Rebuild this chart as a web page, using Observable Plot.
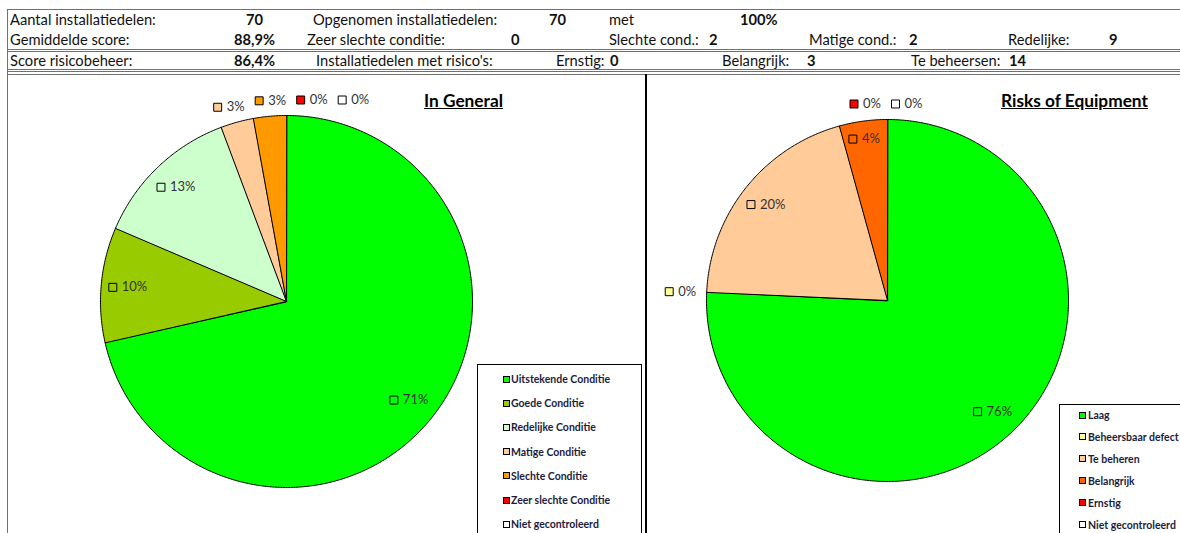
<!DOCTYPE html>
<html><head><meta charset="utf-8">
<script src="https://cdn.jsdelivr.net/npm/d3@7"></script>
<script src="https://cdn.jsdelivr.net/npm/@observablehq/plot@0.6"></script>
<style>
body{margin:0;background:#fff;font-family:Lato,"Open Sans",sans-serif;}
#page{position:relative;width:1180px;height:533px;overflow:hidden;background:#fff;}
.h{position:absolute;font-size:14.7px;color:#111;white-space:nowrap;line-height:16px;height:16px;}
.b{font-weight:bold;}
.ln{position:absolute;background:#707070;}
.title{position:absolute;font-size:17.3px;font-weight:bold;text-decoration:underline;color:#000;white-space:nowrap;line-height:18px;}
.legend{position:absolute;border:1px solid #000;background:#fff;}
.li{position:absolute;font-size:10.5px;font-weight:bold;color:#1c1c3c;white-space:nowrap;line-height:12px;}
.sw{position:absolute;width:5px;height:5px;border:1px solid #000;}
</style></head>
<body><div id="page"></div>
<script>
// ---- data ----
const row1Labels = ["Aantal installatiedelen:", "Opgenomen installatiedelen:", "met"];
const row1Values = ["70", "70", "100%"];
const row2Labels = ["Gemiddelde score:", "Zeer slechte conditie:", "Slechte cond.:", "Matige cond.:", "Redelijke:"];
const row2Values = ["88,9%", "0", "2", "2", "9"];
const row3Labels = ["Score risicobeheer:", "Installatiedelen met risico's:", "Ernstig:", "Belangrijk:", "Te beheersen:"];
const row3Values = ["86,4%", "", "0", "3", "14"];

const generalTitle = "In General";
const generalNames = ["Uitstekende Conditie","Goede Conditie","Redelijke Conditie","Matige Conditie","Slechte Conditie","Zeer slechte Conditie","Niet gecontroleerd"];
const generalCounts = [50, 7, 9, 2, 2, 0, 0];
const generalColors = ["#00FF00","#99CC00","#CCFFCC","#FFCC99","#FF9900","#FF0000","#FFFFFF"];

const riskTitle = "Risks of Equipment";
const riskNames = ["Laag","Beheersbaar defect","Te beheren","Belangrijk","Ernstig","Niet gecontroleerd"];
const riskCounts = [53, 0, 14, 3, 0, 0];
const riskColors = ["#00FF00","#FFFF99","#FFCC99","#FF6600","#FF0000","#FFFFFF"];

// ---- layout ----
const page = document.getElementById("page");
function el(cls, style, text){const d=document.createElement("div");d.className=cls;Object.assign(d.style,style);if(text!=null)d.textContent=text;page.appendChild(d);return d;}

// table lines
[[7,9,1173,1],[7,49,1173,1],[7,51,1173,1],[7,69,1173,1],[7,71,1173,1],[7,74,1173,1],[7,9,1,524]].forEach(([x,y,w,h])=>el("ln",{left:x+"px",top:y+"px",width:w+"px",height:h+"px"}));
el("ln",{left:"645px",top:"74px",width:"2px",height:"460px",background:"#000"});

const rows = [
  {labels:row1Labels, values:row1Values, lx:[10,313,609], vx:[246,549,740], y:19},
  {labels:row2Labels, values:row2Values, lx:[10,307,609,809,1008], vx:[234,511,709,909,1109], y:39},
  {labels:row3Labels, values:row3Values, lx:[10,316,556,722,911], vx:[234,null,610,807,1009], y:60}
];
rows.forEach(r=>{
  r.labels.forEach((t,i)=>el("h",{left:r.lx[i]+"px",top:(r.y-8)+"px"},t));
  r.values.forEach((t,i)=>{ if(t && r.vx[i]!=null) el("h b",{left:r.vx[i]+"px",top:(r.y-8)+"px"},t); });
});

// ---- pies ----
const textW = t => (t.length-1)*7 + 12.5;
function pieData(counts, colors){
  const arcs = d3.pie().sort(null).startAngle(0).endAngle(2*Math.PI)(counts);
  const pts = [];
  arcs.forEach((a,i)=>{
    const span = a.endAngle - a.startAngle;
    if (span <= 0) return;
    pts.push({k:i, color:colors[i], x:0, y:0});
    const n = Math.max(2, Math.ceil(span/(Math.PI/360)));
    for (let j=0;j<=n;j++){ const t = a.startAngle + span*j/n; pts.push({k:i, color:colors[i], x:Math.sin(t), y:Math.cos(t)}); }
  });
  return {arcs, pts};
}
function labelData(arcs, counts, colors, R){
  const total = d3.sum(counts);
  const labs = arcs.map((a,i)=>{
    const text = Math.round(counts[i]/total*100) + "%";
    const w = 14 + textW(text), h = 15;
    const th = (a.startAngle + a.endAngle)/2, s = Math.sin(th), c = Math.cos(th);
    const inside = (a.endAngle - a.startAngle)*0.86*R >= w;
    let x, y;
    if (inside){ const rr = counts[i]/total < 0.06 ? 0.9 : 0.85; x = s*rr*R; y = -c*rr*R; }
    else { x = s*(R+8) + s*w/2; y = -c*(R+8) - c*h/2; }
    return {i, text, color:colors[i], w, h, x, y, ox:x, inside};
  });
  const outs = labs.filter(d=>!d.inside);
  for (const [,g] of d3.groups(outs, d=>Math.round(d.ox)+","+Math.round(d.y))) {
    if (g.length>1){ const tot = d3.sum(g,d=>d.w) + 8*(g.length-1); let left = g[0].ox - tot/2; for (const d of g){ d.x = left + d.w/2; left += d.w + 8; } }
  }
  outs.sort((a,b)=>a.ox-b.ox || a.i-b.i);
  for (let k=1;k<outs.length;k++){
    const p = outs[k-1], d = outs[k];
    if (Math.abs(p.y-d.y) < (p.h+d.h)/2 && d.x - d.w/2 < p.x + p.w/2 + 8) d.x = p.x + p.w/2 + 8 + d.w/2;
  }
  return labs.map(d=>({text:d.text, color:d.color, sx:(d.x - d.w/2 + 4)/R, tx:(d.x - d.w/2 + 13)/R, sy:-d.y/R}));
}
function drawPie(counts, colors, o){
  const {arcs, pts} = pieData(counts, colors);
  const labs = labelData(arcs, counts, colors, o.R);
  const chart = Plot.plot({
    width:o.w, height:o.h, margin:0,
    style:{fontFamily:"Lato, 'Open Sans', sans-serif", background:"transparent"},
    x:{domain:[-1,1], range:[o.cx-o.R, o.cx+o.R], axis:null},
    y:{domain:[-1,1], range:[o.cy+o.R, o.cy-o.R], axis:null},
    color:{type:"identity"},
    marks:[
      Plot.line(pts, {x:"x", y:"y", z:"k", fill:"color", stroke:"#000", strokeWidth:1, curve:"linear-closed"}),
      Plot.dot(labs, {x:"sx", y:"sy", symbol:"square", r:4.5, fill:"color", stroke:"#000", strokeWidth:1}),
      Plot.text(labs, {x:"tx", y:"sy", text:"text", textAnchor:"start", fontSize:13, fill:"#333"})
    ]
  });
  chart.style.position = "absolute"; chart.style.left = o.left+"px"; chart.style.top = o.top+"px";
  page.appendChild(chart);
}
drawPie(generalCounts, generalColors, {left:8, top:76, w:637, h:457, cx:278, cy:225, R:186});
drawPie(riskCounts, riskColors, {left:648, top:76, w:532, h:457, cx:239, cy:224, R:181});

// titles
el("title",{left:"424px",top:"92px"},generalTitle);
el("title",{left:"1001px",top:"92px"},riskTitle);

// legends
function legend(names, colors, o){
  const box = el("legend",{left:o.left+"px",top:o.top+"px",width:o.w+"px",height:o.h+"px"});
  names.forEach((n,i)=>{
    const y = o.first + i*o.step;
    const s = document.createElement("div"); s.className="sw";
    Object.assign(s.style,{left:o.sx+"px",top:(y-3.5)+"px",background:colors[i]}); box.appendChild(s);
    const t = document.createElement("div"); t.className="li"; t.textContent=n;
    Object.assign(t.style,{left:o.tx+"px",top:(y-6)+"px"}); box.appendChild(t);
  });
}
legend(generalNames, generalColors, {left:477, top:364, w:163, h:200, first:14, step:24.2, sx:25, tx:33});
legend(riskNames, riskColors, {left:1059, top:404, w:160, h:200, first:10, step:21.9, sx:19, tx:28});
</script></body></html>
